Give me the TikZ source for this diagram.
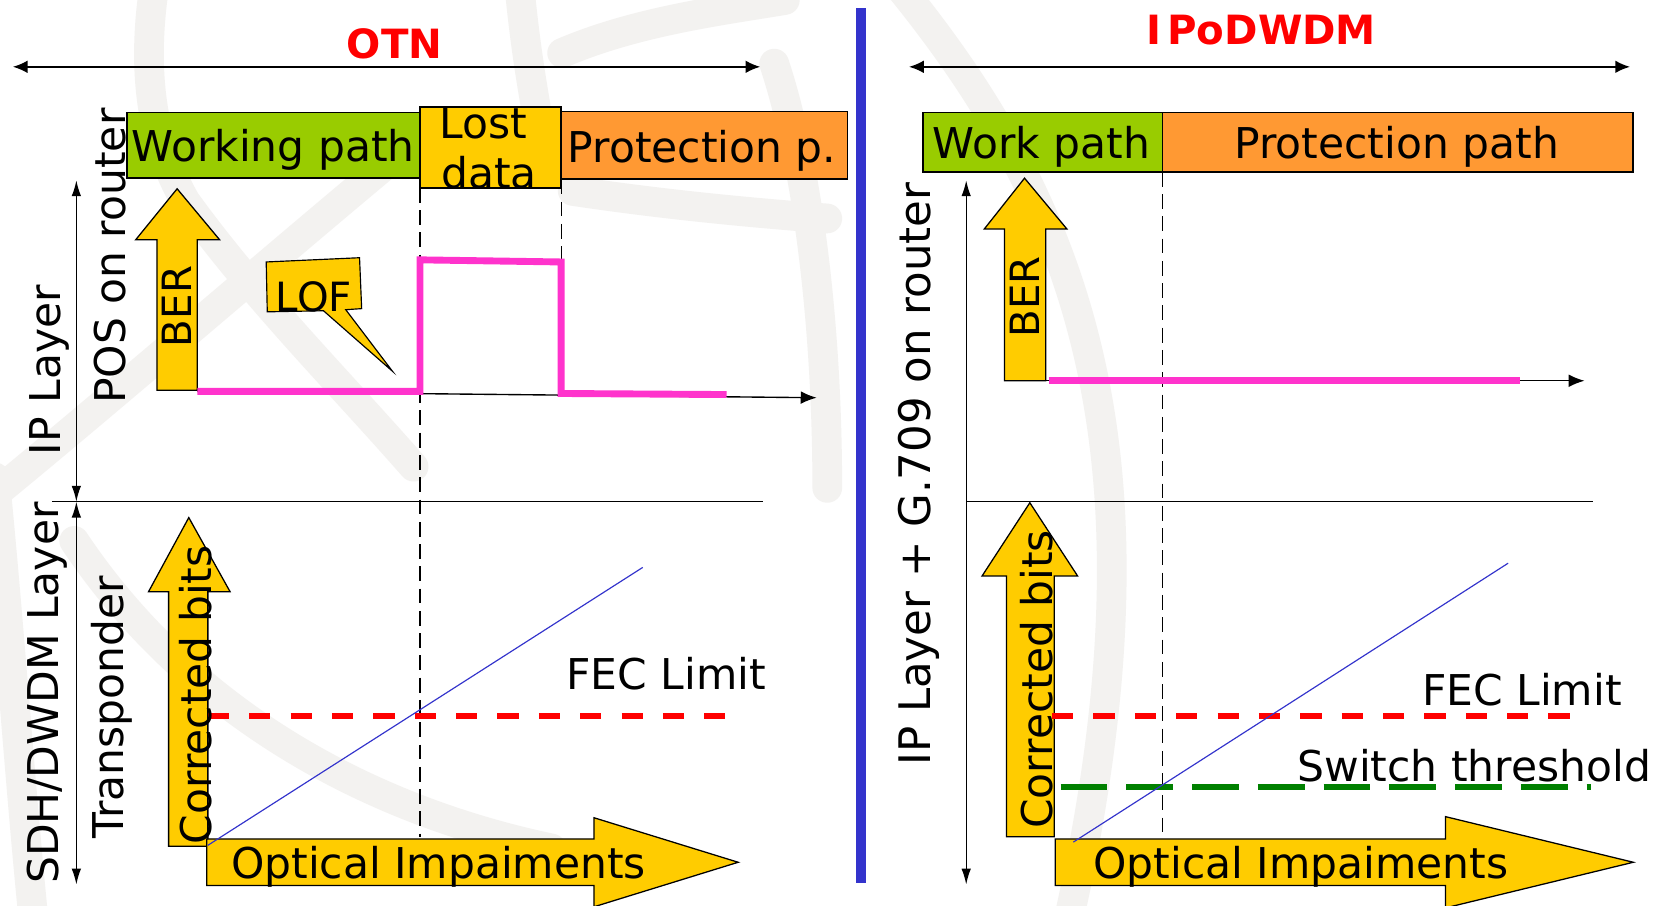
\documentclass[tikz,border=0pt]{standalone}
\usepackage{fontspec}
\setmainfont{DejaVu Sans}
\usetikzlibrary{arrows.meta}

\definecolor{pathgreen}{HTML}{99CC00}
\definecolor{lostyellow}{HTML}{FFCC00}
\definecolor{protorange}{HTML}{FF9933}
\definecolor{signalpink}{HTML}{FF33CC}
\definecolor{rulerblue}{HTML}{3333CC}
\definecolor{fecred}{HTML}{FF0000}
\definecolor{switchgreen}{HTML}{008000}
\definecolor{watermark}{RGB}{243,242,240}

\begin{document}
\begin{tikzpicture}[x=1pt,y=-1pt,
  txt/.style={inner sep=0pt, font=\fontsize{40}{49}\selectfont},
  ttl/.style={inner sep=0pt, text=fecred, font=\fontsize{38}{45}\selectfont\bfseries},
  pathbox/.style={draw, line width=1.6pt, inner sep=0pt},
  blockarrow/.style={draw, line width=1.2pt, fill=lostyellow, line join=miter},
  span/.style={line width=2pt, {Latex[length=14pt,width=12pt]}-{Latex[length=14pt,width=12pt]}},
  layeraxis/.style={line width=1.3pt, {Latex[length=15pt,width=9pt]}-{Latex[length=15pt,width=9pt]}},
  timeaxis/.style={line width=1.3pt, -{Latex[length=15pt,width=12pt]}},
  guide/.style={line width=1pt, dash pattern=on 14pt off 7pt},
  signal/.style={line width=6.5pt, signalpink, line join=miter},
  fecline/.style={line width=5.5pt, fecred, dash pattern=on 20pt off 19pt},
  switchline/.style={line width=5.5pt, switchgreen, dash pattern=on 44pt off 18pt},
  ramp/.style={line width=1.1pt, rulerblue},
  band/.style={line width=28pt, watermark, line cap=round},
]
\useasboundingbox (0,0) rectangle (1568,854);
\fill[white] (0,0) rectangle (1568,854);

% faint globe watermark behind the diagram
\begin{scope}
\clip (0,0) rectangle (1568,854);
\draw[band] (145,-10) .. controls (135,60) and (140,130) .. (175,190)
            .. controls (240,280) and (320,360) .. (390,440);
\draw[band] (370,150) .. controls (250,250) and (100,380) .. (-10,470);
\draw[band] (-5,450) .. controls (10,600) and (20,760) .. (35,900);
\draw[band] (70,510) .. controls (170,660) and (330,760) .. (520,800);
\draw[band] (490,-10) .. controls (495,40) and (500,70) .. (505,100);
\draw[band] (530,50) .. controls (600,20) and (680,10) .. (740,0);
\draw[band] (730,60) .. controls (760,150) and (780,300) .. (780,460);
\draw[band] (540,180) .. controls (620,192) and (700,200) .. (780,206);
\draw[band] (850,-10) .. controls (1020,200) and (1110,440) .. (1000,900);
\end{scope}

% titles and span arrows
\node[ttl, anchor=base] (otn) at (372,55) {OTN};
\node[ttl, anchor=base] (ipo) at (1189,42.4) {I\kern6pt PoDWDM};
\coordinate (otnL) at (12,63);
\coordinate (otnR) at (717,63);
\coordinate (ipoL) at (857,63);
\coordinate (ipoR) at (1537,63);
\draw[span] (otnL) -- (otnR);
\draw[span] (ipoL) -- (ipoR);

% panel divider
\coordinate (divT) at (812,8);
\coordinate (divB) at (812,833);
\draw[line width=9pt, rulerblue] (divT) -- (divB);

% ---------------- left panel: OTN ----------------
\node[pathbox, fill=pathgreen, minimum width=276pt, minimum height=62pt] (work) at (258,137) {};
\node[pathbox, fill=lostyellow, minimum width=133pt, minimum height=76pt] (lost) at (462.5,139) {};
\node[pathbox, fill=protorange, minimum width=270pt, minimum height=64pt] (prot) at (664,137) {};
\node[txt, anchor=base] (workT) at (257.5,152.6) {Working path};
\node[txt, anchor=base] (lostT) at (456,130.4) {Lost};
\node[txt, anchor=base] (dataT) at (461,177.6) {data};
\node[txt, anchor=base] (protT) at (662,153) {Protection p.};

% switch-over guides
\coordinate (g1T) at (396,177);
\coordinate (g1B) at (396,789);
\coordinate (g2T) at (529,169);
\coordinate (g2B) at (529,247);
\draw[guide] (g1T) -- (g1B);
\draw[guide] (g2T) -- (g2B);

% layer axes
\coordinate (ipTop) at (72,170);
\coordinate (layerMid) at (72,473);
\coordinate (sdhBot) at (72,834);
\draw[layeraxis] (ipTop) -- (layerMid);
\draw[layeraxis] (layerMid) -- (sdhBot);
\coordinate (sepL) at (49,473);
\coordinate (sepR) at (719,473);
\draw[line width=1.3pt] (sepL) -- (sepR);

\node[txt, rotate=90, anchor=base] (ipLay) at (57,349) {IP Layer};
\node[txt, rotate=90, anchor=base] (pos) at (118,241.5) {POS on router};
\node[txt, rotate=90, anchor=base] (sdh) at (55,653.5) {SDH/DWDM Layer};
\node[txt, rotate=90, anchor=base] (trn) at (116,667) {Transponder};

% BER arrow and time axis
\path[blockarrow] (148,368) -- (148,226) -- (128,226) -- (167,178) -- (207,226) -- (186,226) -- (186,368) -- cycle;
\node[txt, rotate=90, anchor=base, font=\fontsize{38}{46}\selectfont] (berL) at (181,289) {BER};
\coordinate (t1S) at (186,369);
\coordinate (t1E) at (770,375);
\draw[timeaxis] (t1S) -- (t1E);
\draw[signal] (186,369) -- (396,369) -- (396,245) -- (529,247) -- (529,371) -- (685,372);

% LOF callout
\path[draw, fill=lostyellow, line width=1.1pt, line join=miter]
  (251,247) -- (339,243) -- (341,291) -- (326,292) -- (370,350) -- (305,293) -- (252,294) -- cycle;
\node[txt, anchor=base, font=\fontsize{38}{46}\selectfont] (lof) at (296,294) {LOF};

% corrected bits vs optical impairments
\path[blockarrow] (159,798) -- (159,558) -- (140,558) -- (178,488) -- (217,558) -- (196,558) -- (196,798) -- cycle;
\path[blockarrow] (195,791) -- (560,791) -- (560,771) -- (696,813) -- (560,855) -- (560,835) -- (195,835) -- cycle;
\node[txt, anchor=base] (optL) at (413.5,828) {Optical Impaiments};
\coordinate (fecLs) at (196,675);
\coordinate (fecLe) at (693,675);
\draw[fecline] (fecLs) -- (fecLe);
\coordinate (rampLs) at (196,797);
\coordinate (rampLe) at (606,535);
\draw[ramp] (rampLs) -- (rampLe);
\node[txt, rotate=90, anchor=base] (corrL) at (199,655) {Corrected bits};
\node[txt, anchor=base] (fecLT) at (628,650) {FEC Limit};

% ---------------- right panel: IPoDWDM ----------------
\node[pathbox, fill=pathgreen, minimum width=226pt, minimum height=56pt] (work2) at (983,134) {};
\node[pathbox, fill=protorange, minimum width=444pt, minimum height=56pt] (prot2) at (1318,134) {};
\node[txt, anchor=base] (work2T) at (982,149) {Work path};
\node[txt, anchor=base] (prot2T) at (1317,149) {Protection path};

\coordinate (g3T) at (1096,162);
\coordinate (g3B) at (1096,784);
\draw[guide] (g3T) -- (g3B);

\coordinate (ip2Top) at (911,170);
\coordinate (ip2Bot) at (911,834);
\draw[layeraxis] (ip2Top) -- (ip2Bot);
\coordinate (sep2L) at (911,473);
\coordinate (sep2R) at (1502,473);
\draw[line width=1.3pt] (sep2L) -- (sep2R);
\node[txt, rotate=90, anchor=base, font=\fontsize{41}{49}\selectfont] (ipg) at (877,447) {IP Layer + G.709 on router};

\path[blockarrow] (947,359) -- (947,216) -- (928,216) -- (966,168) -- (1006,216) -- (986,216) -- (986,359) -- cycle;
\node[txt, rotate=90, anchor=base, font=\fontsize{38}{46}\selectfont] (berR) at (980,280) {BER};
\coordinate (t2S) at (986,359);
\coordinate (t2E) at (1494,359);
\draw[timeaxis] (t2S) -- (t2E);
\draw[signal] (989,359) -- (1433,359);

\path[blockarrow] (949,789) -- (949,543) -- (926,543) -- (971,474) -- (1016,543) -- (994,543) -- (994,789) -- cycle;
\path[blockarrow] (995,791) -- (1363,791) -- (1363,770) -- (1540,813) -- (1363,856) -- (1363,835) -- (995,835) -- cycle;
\node[txt, anchor=base] (optR) at (1226.5,828) {Optical Impaiments};
\coordinate (fecRs) at (992,675);
\coordinate (fecRe) at (1491,675);
\draw[fecline] (fecRs) -- (fecRe);
\node[txt, anchor=base] (swT) at (1390,737) {Switch threshold};
\coordinate (swS) at (1000,742);
\coordinate (swE) at (1500,742);
\draw[switchline] (swS) -- (swE);
\coordinate (rampRs) at (1012,794);
\coordinate (rampRe) at (1422,531);
\draw[ramp] (rampRs) -- (rampRe);
\node[txt, rotate=90, anchor=base] (corrR) at (992,640.5) {Corrected bits};
\node[txt, anchor=base] (fecRT) at (1435,665) {FEC Limit};
\end{tikzpicture}
\end{document}
